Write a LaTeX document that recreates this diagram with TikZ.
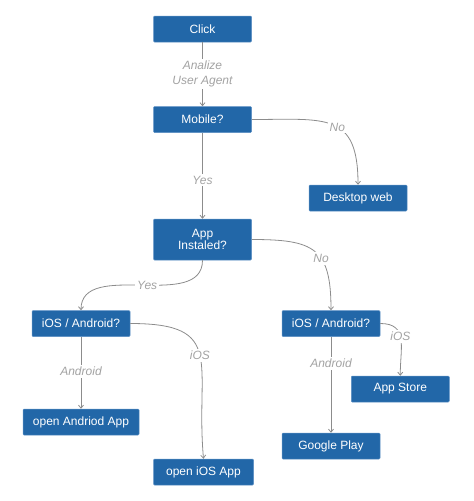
\documentclass[tikz,border=0pt]{standalone}
\usepackage{fontspec}
\setmainfont{Liberation Sans}
\usepackage{tikz}
\usetikzlibrary{arrows.meta,positioning}
\definecolor{boxblue}{HTML}{2267A8}
\definecolor{boxedge}{HTML}{5B8FC4}
\definecolor{linegray}{HTML}{8C8C8C}
\definecolor{labelgray}{HTML}{A3A3A3}

\begin{document}
\begin{tikzpicture}[x=1pt, y=-1pt, ->, >={Straight Barb[length=3pt,width=5pt]}, line width=0.8pt, draw=linegray]
    \tikzstyle{every node}=[font=\fontsize{12}{14}\selectfont]
    \tikzstyle{step box}=[rectangle, rounded corners=1pt, fill=boxblue, draw=boxedge, line width=0.5pt, text=white, minimum width=98pt, minimum height=26pt, inner sep=2pt, align=center]
    \tikzstyle{answer}=[fill=white, text=labelgray, font=\fontsize{12}{14}\selectfont\itshape, inner sep=2pt, align=center]

    \useasboundingbox (0,0) rectangle (474,501);

    \node[step box] (click) at (202.5,29) {Click};
    \node[step box] (mobile) [below=64pt of click] {Mobile?};
    \node[step box] (desktop) [below right=52pt and 57pt of mobile] {Desktop web};
    \node[step box, minimum height=41pt, text width=90pt] (installed) [below=86pt of mobile] {App\\[-2pt]Instaled?};
    \node[step box] (leftos) [below left=50pt and 23pt of installed] {iOS / Android?};
    \node[step box] (rightos) [below right=50pt and 30pt of installed] {iOS / Android?};
    \node[step box, minimum width=116pt] (openandroid) [below=72pt of leftos] {open Andriod App};
    \node[step box, minimum width=100pt] (openios) [below right=122pt and 23pt of leftos] {open iOS App};
    \node[step box] (googleplay) [below=96pt of rightos] {Google Play};
    \node[step box] (appstore) [below=39pt of rightos.south east, xshift=20pt] {App Store};

    \path
    (click)        edge [] node[answer] {Analize\\[1pt]User Agent} (mobile)
    (mobile.east)  edge [out=0, in=90, looseness=1.5] node[answer, pos=0.55] {No} (desktop.north)
    (mobile)       edge [] node[answer, pos=0.55] {Yes} (installed)
    (installed.east) edge [out=0, in=90, looseness=1.5] node[answer, pos=0.6] {No} (rightos.north)
    (installed.south) edge [out=-90, in=90] node[answer, pos=0.47] {Yes} (leftos.north)
    (leftos)       edge [] node[answer, pos=0.48] {Android} (openandroid)
    (leftos.east)  edge [out=0, in=95, looseness=1.6] node[answer, pos=0.5] {iOS} (openios.north)
    (rightos)      edge [] node[answer, pos=0.28] {Android} (googleplay)
    (rightos.east) edge [out=0, in=90, looseness=1.3] node[answer, pos=0.45] {iOS} (appstore.north);

  \end{tikzpicture}
\end{document}
